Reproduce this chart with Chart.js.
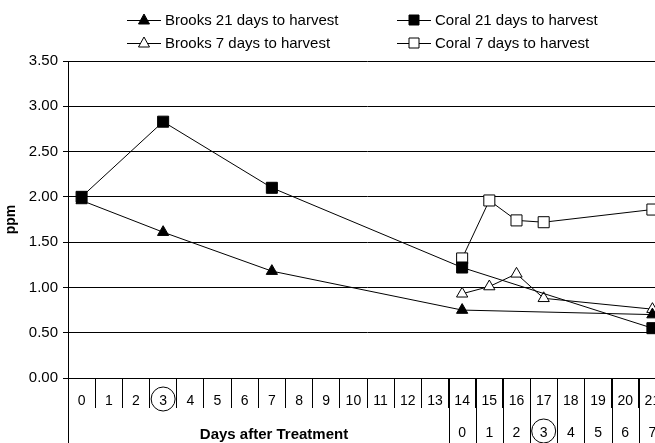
<!DOCTYPE html>
<html>
<head>
<meta charset="utf-8">
<script src="https://cdn.jsdelivr.net/npm/chart.js@4"></script>
<style>
  html, body { margin: 0; padding: 0; background: #fff; overflow: hidden; }
  #wrap { width: 680px; height: 443px; }
</style>
</head>
<body>
<div id="wrap"><canvas id="grafico" width="680" height="443"></canvas></div>
<script>
// dias despues del tratamiento
const dias = ['0','1','2','3','4','5','6','7','8','9','10','11','12','13','14','15','16','17','18','19','20','21'];
// segunda fila: dias desde el tratamiento de 7 dias
const dias7 = ['0','1','2','3','4','5','6','7'];
const yTicks = [0, 0.5, 1, 1.5, 2, 2.5, 3, 3.5];

const brooks21 = [1.96,null,null,1.61,null,null,null,1.18,null,null,null,null,null,null,0.75,null,null,null,null,null,null,0.70];
const coral21  = [2.00,null,null,2.83,null,null,null,2.10,null,null,null,null,null,null,1.22,null,null,null,null,null,null,0.55];
const brooks7  = [null,null,null,null,null,null,null,null,null,null,null,null,null,null,0.93,1.01,1.15,0.88,null,null,null,0.76];
const coral7   = [null,null,null,null,null,null,null,null,null,null,null,null,null,null,1.32,1.96,1.74,1.72,null,null,null,1.86];

const fuente = 'Arial, "Liberation Sans", sans-serif';

const series = [
  { label: 'Brooks 21 days to harvest', data: brooks21, pointStyle: 'triangle', pointRadius: 6.5, pointBackgroundColor: '#000' },
  { label: 'Coral 21 days to harvest',  data: coral21,  pointStyle: 'rect',     pointRadius: 7.8, pointBackgroundColor: '#000' },
  { label: 'Brooks 7 days to harvest',  data: brooks7,  pointStyle: 'triangle', pointRadius: 6.5, pointBackgroundColor: '#fff' },
  { label: 'Coral 7 days to harvest',   data: coral7,   pointStyle: 'rect',     pointRadius: 7.8, pointBackgroundColor: '#fff' }
];

// leyenda, circulos y segunda fila del eje x
const extras = {
  id: 'extras',
  afterDraw(chart) {
    const ctx = chart.ctx;
    const area = chart.chartArea;
    const x = chart.scales.x;
    const w = (area.right - area.left) / dias.length;
    ctx.save();
    ctx.strokeStyle = '#000';
    ctx.lineWidth = 1;

    // lineas largas del eje x
    ctx.beginPath();
    ctx.moveTo(Math.round(area.left) + 0.5, area.bottom);
    ctx.lineTo(Math.round(area.left) + 0.5, chart.height);
    for (let i = 14; i <= dias.length; i++) {
      const bx = Math.round(area.left + i * w) + 0.5;
      ctx.moveTo(bx, area.bottom);
      ctx.lineTo(bx, chart.height);
    }
    ctx.stroke();

    // segunda fila
    ctx.fillStyle = '#000';
    ctx.font = '14px ' + fuente;
    ctx.textAlign = 'center';
    ctx.textBaseline = 'middle';
    dias7.forEach((d, i) => {
      ctx.fillText(d, x.getPixelForValue(14 + i), 433);
    });

    // titulo eje x
    ctx.font = 'bold 15px ' + fuente;
    ctx.fillText('Days after Treatment', 274, 435);

    // circulos
    ctx.beginPath();
    ctx.arc(x.getPixelForValue(3), 399, 12, 0, Math.PI * 2);
    ctx.stroke();
    ctx.beginPath();
    ctx.arc(x.getPixelForValue(17), 431, 12, 0, Math.PI * 2);
    ctx.stroke();

    // leyenda
    const pos = [[127, 20], [397, 20], [127, 43], [397, 43]];
    ctx.font = '15px ' + fuente;
    ctx.textAlign = 'left';
    chart.data.datasets.forEach((ds, i) => {
      const [lx, ly] = pos[i];
      ctx.beginPath();
      ctx.moveTo(lx, ly + 0.5);
      ctx.lineTo(lx + 34, ly + 0.5);
      ctx.stroke();
      const mx = lx + 17;
      ctx.beginPath();
      if (ds.pointStyle === 'triangle') {
        ctx.moveTo(mx, ly - 6);
        ctx.lineTo(mx + 5.5, ly + 4);
        ctx.lineTo(mx - 5.5, ly + 4);
        ctx.closePath();
      } else {
        ctx.rect(mx - 5, ly - 5, 10, 10);
      }
      ctx.fillStyle = ds.pointBackgroundColor;
      ctx.fill();
      ctx.stroke();
      ctx.fillStyle = '#000';
      ctx.fillText(ds.label, lx + 38, ly + 1);
    });
    ctx.restore();
  }
};

new Chart(document.getElementById('grafico'), {
  type: 'line',
  data: {
    labels: dias,
    datasets: series.map(s => ({
      label: s.label,
      data: s.data,
      borderColor: '#000',
      borderWidth: 1,
      spanGaps: true,
      tension: 0,
      pointStyle: s.pointStyle,
      pointRadius: s.pointRadius,
      pointBackgroundColor: s.pointBackgroundColor,
      pointBorderColor: '#000',
      pointBorderWidth: 1
    }))
  },
  options: {
    responsive: false,
    animation: false,
    layout: { padding: { left: 0, top: 61, right: 14, bottom: 0 } },
    plugins: {
      legend: { display: false },
      tooltip: { enabled: false }
    },
    scales: {
      x: {
        offset: true,
        afterFit: s => { s.height = 65; },
        border: { display: true, color: '#000' },
        grid: {
          offset: true,
          drawOnChartArea: false,
          tickLength: 30,
          color: '#000'
        },
        ticks: {
          padding: -15,
          maxRotation: 0,
          autoSkip: false,
          color: '#000',
          font: { family: fuente, size: 14 }
        }
      },
      y: {
        min: 0,
        max: 3.5,
        afterFit: s => { s.width = 68; },
        afterBuildTicks: s => { s.ticks = yTicks.map(v => ({ value: v })); },
        border: { display: true, color: '#000' },
        grid: { color: '#000', tickLength: 5 },
        ticks: {
          padding: 5,
          color: '#000',
          font: { family: fuente, size: 15 },
          callback: v => Number(v).toFixed(2)
        },
        title: {
          display: true,
          text: 'ppm',
          color: '#000',
          padding: { top: 3, bottom: 0 },
          font: { family: fuente, size: 14, weight: 'bold' }
        }
      }
    }
  },
  plugins: [extras]
});
</script>
</body>
</html>
